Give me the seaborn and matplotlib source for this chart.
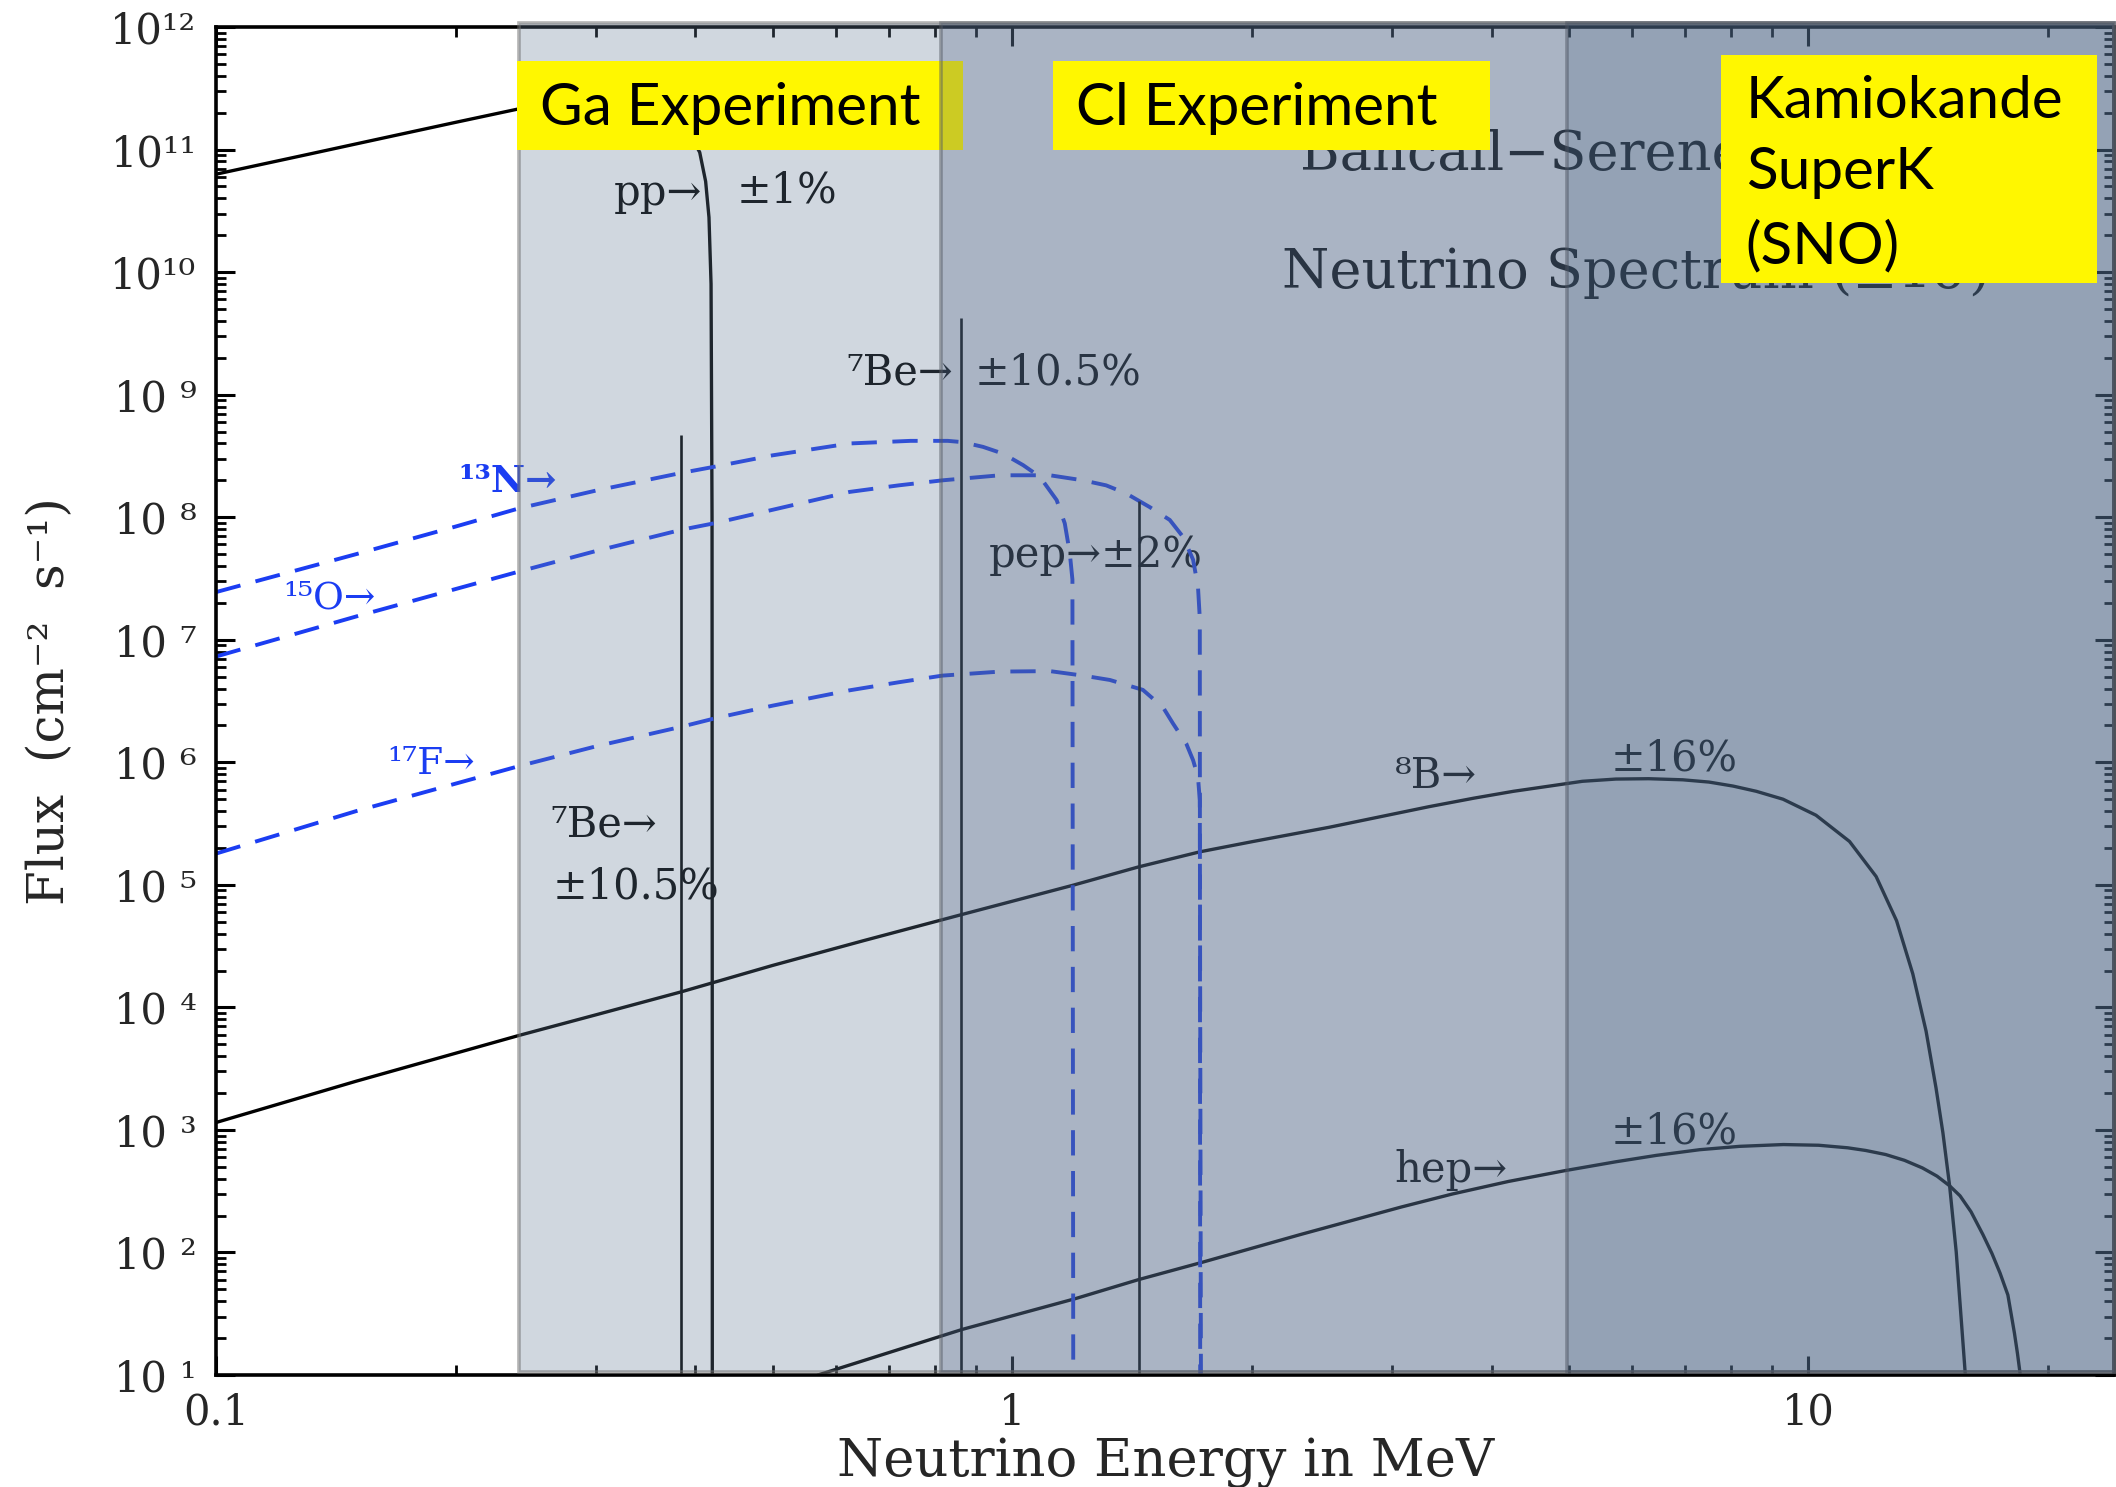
import numpy as np
import pandas as pd
import matplotlib
matplotlib.use("Agg")
import matplotlib.pyplot as plt
import seaborn as sns
from matplotlib.patches import Rectangle
from matplotlib.ticker import FixedLocator, FixedFormatter, LogLocator, NullFormatter

# ---------------- data ----------------
pp_E = [0.1, 0.13, 0.16, 0.2, 0.24, 0.28, 0.32, 0.36, 0.39, 0.405, 0.412, 0.416, 0.4185, 0.4197, 0.42, 0.42]
pp_F = [6.3e10, 9.1e10, 1.22e11, 1.67e11, 2.15e11, 2.4e11, 2.45e11, 2.1e11, 1.5e11, 9.5e10, 5.5e10, 2.8e10, 8e9, 1e8, 1e3, 5]

n13_E = [0.1, 0.15, 0.2, 0.24, 0.3, 0.384, 0.425, 0.5, 0.625, 0.745, 0.83, 0.866, 0.919, 0.974, 1.032, 1.083,
         1.137, 1.164, 1.181, 1.19, 1.193]
n13_F = [2.45e7, 5.0e7, 8.4e7, 1.18e8, 1.65e8, 2.3e8, 2.6e8, 3.2e8, 4.0e8, 4.2e8, 4.2e8, 4.1e8, 3.75e8, 3.3e8,
         2.66e8, 2.14e8, 1.38e8, 8.9e7, 5.1e7, 3.1e7, 5]

o15_E = [0.1, 0.15, 0.24, 0.3, 0.384, 0.425, 0.5, 0.625, 0.72, 0.817, 0.965, 1.115, 1.227, 1.312, 1.391, 1.488,
         1.577, 1.639, 1.687, 1.711, 1.72, 1.722]
o15_F = [7.3e6, 1.55e7, 3.6e7, 5.3e7, 7.9e7, 9.0e7, 1.15e8, 1.61e8, 1.82e8, 2.0e8, 2.2e8, 2.2e8, 2.0e8, 1.82e8,
         1.56e8, 1.21e8, 9.5e7, 6.9e7, 4.5e7, 2.7e7, 1.5e7, 5]

f17_E = [0.1, 0.15, 0.24, 0.3, 0.384, 0.425, 0.5, 0.625, 0.72, 0.817, 0.965, 1.115, 1.227, 1.326, 1.459, 1.547,
         1.592, 1.654, 1.687, 1.711, 1.72, 1.726]
f17_F = [1.8e5, 4.0e5, 9.3e5, 1.35e6, 1.95e6, 2.3e6, 2.9e6, 3.87e6, 4.5e6, 5.1e6, 5.5e6, 5.55e6, 5.1e6, 4.7e6,
         3.9e6, 2.8e6, 2.07e6, 1.42e6, 1.04e6, 7.6e5, 4.9e5, 5]

b8_E = [0.1, 0.15, 0.24, 0.3, 0.384, 0.5, 0.65, 0.862, 1.19, 1.44, 1.72, 2.0, 2.5, 2.9, 3.34, 3.8, 4.26, 4.73,
        5.2, 5.73, 6.3, 6.95, 7.5, 8.04, 8.6, 9.29, 10.22, 11.26, 12.16, 12.9, 13.52, 14.05, 14.46, 14.75, 15.04,
        15.33, 15.55, 15.74, 15.8]
b8_F = [1.15e3, 2.5e3, 5.9e3, 8.7e3, 1.34e4, 2.2e4, 3.5e4, 5.7e4, 9.9e4, 1.4e5, 1.86e5, 2.25e5, 2.95e5, 3.6e5,
        4.35e5, 5.1e5, 5.8e5, 6.4e5, 7.0e5, 7.3e5, 7.35e5, 7.2e5, 6.9e5, 6.4e5, 5.8e5, 5.0e5, 3.7e5, 2.26e5,
        1.17e5, 5.1e4, 1.88e4, 6.4e3, 2.2e3, 950, 350, 101, 29, 10, 5]

hep_E = [0.55, 0.57, 0.866, 1.2, 1.44, 1.73, 2.3, 2.65, 3.08, 3.57, 4.2, 4.94, 5.73, 6.44, 7.3, 8.2, 9.3, 10.3,
         11.2, 11.8, 12.5, 13.2, 13.9, 14.5, 15.04, 15.5, 16.0, 16.56, 17.0, 17.4, 17.8, 18.14, 18.3, 18.45, 18.5]
hep_F = [8, 10, 23.6, 42, 60, 83, 140, 180, 235, 300, 380, 465, 550, 620, 690, 735, 760, 750,
         715, 680, 630, 565, 490, 420, 350, 290, 215, 140, 98, 68, 45, 22, 15, 10, 5]

line_E = [0.384, 0.862, 1.442]          # 7Be, 7Be, pep lines
line_F = [4.7e8, 4.2e9, 1.35e8]

band_start = [0.2405, 0.813, 4.97]       # Ga, Cl, Kamiokande thresholds
x_ticks = [0.1, 1, 10]
x_tick_labels = ["0.1", "1", "10"]
y_ticks = [10.0 ** k for k in range(1, 13)]
y_tick_labels = ["10 \u00b9", "10 \u00b2", "10 \u00b3", "10 \u2074", "10 \u2075", "10 \u2076",
                 "10 \u2077", "10 \u2078", "10 \u2079", "10\u00b9\u2070", "10\u00b9\u00b9", "10\u00b9\u00b2"]

# ---------------- style ----------------
sns.set_theme(style="ticks")
plt.rcParams["font.family"] = ["DejaVu Serif"]

XMAX = 24.2
fig = plt.figure(figsize=(21.16, 14.87), dpi=100)
ax = fig.add_axes([0.1021, 0.0753, 0.897, 0.9065])
ax.set_xscale("log")
ax.set_yscale("log")
ax.set_xlim(0.1, XMAX)
ax.set_ylim(10, 1e12)

BLUE = "#1b3df2"
DASH = (0, (6.5, 4.0))


def curve(E, F, color, lw, ls="-"):
    df = pd.DataFrame({"E": E, "F": F})
    sns.lineplot(data=df, x="E", y="F", ax=ax, color=color, lw=lw, linestyle=ls,
                 estimator=None, sort=False, zorder=2)


curve(pp_E, pp_F, "black", 2.4)
curve(b8_E, b8_F, "black", 2.4)
curve(hep_E, hep_F, "black", 2.4)
curve(n13_E, n13_F, BLUE, 2.8, DASH)
curve(o15_E, o15_F, BLUE, 2.8, DASH)
curve(f17_E, f17_F, BLUE, 2.8, DASH)
ax.vlines(line_E, 10, line_F, colors="black", lw=1.9, zorder=2)

# ---------------- annotations ----------------
tk = dict(fontsize=30, color="black", va="center", ha="left", zorder=1.9)
ax.text(0.316, 4.4e10, "pp\u2192", **tk)
ax.text(0.451, 4.65e10, "\u00b11%", **tk)
ax.text(0.619, 1.52e9, "\u2077Be\u2192", **tk)
ax.text(0.896, 1.52e9, "\u00b110.5%", **tk)
ax.text(0.263, 3.1e5, "\u2077Be\u2192", **tk)
ax.text(0.265, 9.66e4, "\u00b110.5%", **tk)
ax.text(0.935, 4.94e7, "pep\u2192\u00b12%", **tk)
ax.text(3.02, 7.7e5, "\u2078B\u2192", **tk)
ax.text(5.64, 1.07e6, "\u00b116%", **tk)
ax.text(3.02, 470, "hep\u2192", **tk)
ax.text(5.64, 980, "\u00b116%", **tk)
bk = dict(fontsize=27, color=BLUE, va="center", ha="left", zorder=1.9)
ax.text(0.2018, 1.94e8, "\u00b9\u00b3N\u2192", fontweight="bold", **bk)
ax.text(0.1215, 2.19e7, "\u00b9\u2075O\u2192", **bk)
ax.text(0.1641, 9.7e5, "\u00b9\u2077F\u2192", **bk)
ax.text(2.30, 9.0e10, "Bahcall\u2212Serenelli 2005", fontsize=39, color="black",
        va="center", ha="left", zorder=1.9)
ax.text(2.18, 9.9e9, "Neutrino Spectrum (\u00b11\u03c3)", fontsize=39, color="black",
        va="center", ha="left", zorder=1.9)

# ---------------- experiment bands ----------------
band_face = [(100/255, 125/255, 150/255, 0.30), (72/255, 91/255, 126/255, 0.28), (60/255, 91/255, 121/255, 0.20)]
band_edge = [(0.45, 0.45, 0.45, 0.55), (0.33, 0.35, 0.38, 0.5), (0.30, 0.33, 0.38, 0.5)]
for i, x0 in enumerate(band_start):
    ax.axvspan(x0, XMAX, ymin=0.002, ymax=1.003, fc=band_face[i], ec=band_edge[i],
               lw=2.6, zorder=3 + i, clip_on=False)

YEL = "#fff700"
box_font = dict(family=["Lato", "DejaVu Sans"], fontsize=42, color="black", va="center", ha="left")
ax.add_patch(Rectangle((0.1586, 0.9089), 0.2347, 0.0661, transform=ax.transAxes, fc=YEL, ec="none", zorder=3.5))
ax.text(0.1707, 0.9394, "Ga Experiment", transform=ax.transAxes, zorder=3.6, **box_font)
ax.add_patch(Rectangle((0.441, 0.9089), 0.2304, 0.0661, transform=ax.transAxes, fc=YEL, ec="none", zorder=4.5))
ax.text(0.453, 0.9394, "Cl Experiment", transform=ax.transAxes, zorder=4.6, **box_font)
ax.add_patch(Rectangle((0.793, 0.8098), 0.1978, 0.1692, transform=ax.transAxes, fc=YEL, ec="none", zorder=5.5))
for yy, s in zip([0.945, 0.892, 0.837], ["Kamiokande", "SuperK", "(SNO)"]):
    ax.text(0.806, yy, s, transform=ax.transAxes, zorder=5.6, **box_font)

# ---------------- axes / ticks ----------------
ax.xaxis.set_major_locator(FixedLocator(x_ticks))
ax.xaxis.set_major_formatter(FixedFormatter(x_tick_labels))
ax.xaxis.set_minor_locator(LogLocator(base=10, subs=np.arange(2, 10)))
ax.xaxis.set_minor_formatter(NullFormatter())
ax.yaxis.set_major_locator(FixedLocator(y_ticks))
ax.yaxis.set_major_formatter(FixedFormatter(y_tick_labels))
ax.yaxis.set_minor_locator(LogLocator(base=10, subs=np.arange(2, 10), numticks=20))
ax.yaxis.set_minor_formatter(NullFormatter())
ax.tick_params(which="both", direction="in", top=True, right=True, color="black")
ax.tick_params(which="major", length=14, width=2.2, labelsize=30)
ax.tick_params(which="minor", length=7, width=2.0)
ax.tick_params(axis="x", which="major", pad=12)
ax.tick_params(axis="y", which="major", pad=14)
for sp in ax.spines.values():
    sp.set_linewidth(2.6)
    sp.set_color("black")
ax.set_facecolor("white")

ax.set_xlabel("Neutrino Energy in MeV", fontsize=38)
ax.set_ylabel("Flux  (cm\u207b\u00b2  s\u207b\u00b9)", fontsize=36)
ax.xaxis.set_label_coords(0.5, -0.046)
ax.yaxis.set_label_coords(-0.074, 0.5)

fig.savefig("out.png", dpi=100, facecolor="white")
